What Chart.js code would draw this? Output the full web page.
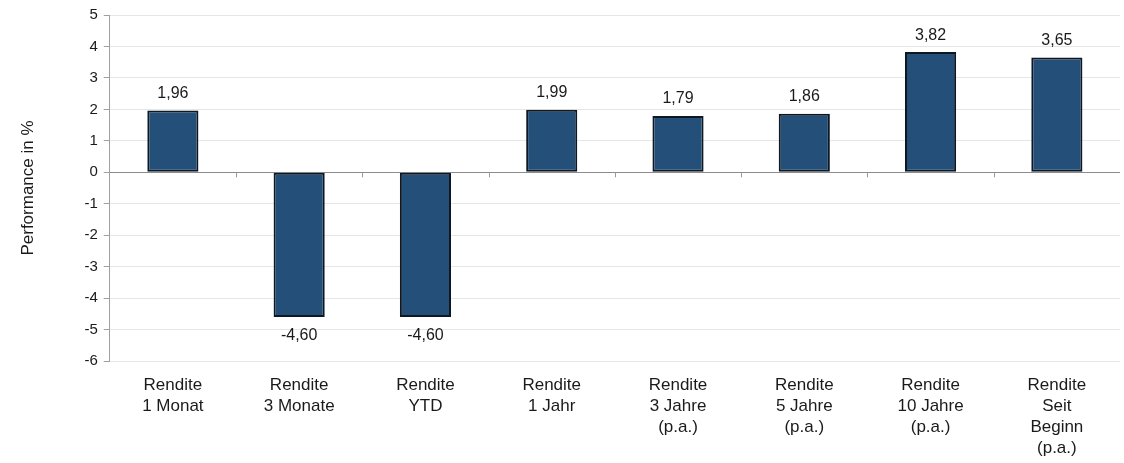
<!DOCTYPE html>
<html>
<head>
<meta charset="utf-8">
<script src="https://cdn.jsdelivr.net/npm/chart.js@4.4.1/dist/chart.umd.min.js"></script>
<style>
html,body{margin:0;padding:0;background:#fff;}
#wrap{width:1124px;height:463px;position:relative;}
</style>
</head>
<body>
<div id="wrap"><canvas id="c" width="1124" height="463"></canvas></div>
<script>
const categories = [
  ["Rendite","1 Monat"],
  ["Rendite","3 Monate"],
  ["Rendite","YTD"],
  ["Rendite","1 Jahr"],
  ["Rendite","3 Jahre","(p.a.)"],
  ["Rendite","5 Jahre","(p.a.)"],
  ["Rendite","10 Jahre","(p.a.)"],
  ["Rendite","Seit","Beginn","(p.a.)"]
];
const performance = [1.96, -4.60, -4.60, 1.99, 1.79, 1.86, 3.82, 3.65];
const yTicks = [5,4,3,2,1,0,-1,-2,-3,-4,-5,-6];

const fmt = v => v.toFixed(2).replace('.', ',');
const FONT = '"Liberation Sans", Arial, sans-serif';

const extras = {
  id: 'extras',
  afterDatasetsDraw(chart) {
    const ctx = chart.ctx;
    const meta = chart.getDatasetMeta(0);
    const xs = chart.scales.x, ys = chart.scales.y;
    ctx.save();
    const y0 = ys.getPixelForValue(0);
    ctx.strokeStyle = '#999';
    ctx.lineWidth = 1;
    for (let i = 0; i < categories.length - 1; i++) {
      const xm = Math.round((xs.getPixelForValue(i) + xs.getPixelForValue(i + 1)) / 2) + 0.5;
      ctx.beginPath();
      ctx.moveTo(xm, y0);
      ctx.lineTo(xm, y0 + 5);
      ctx.stroke();
    }
    ctx.fillStyle = '#1a1a1a';
    ctx.font = '16px ' + FONT;
    ctx.textAlign = 'center';
    meta.data.forEach((bar, i) => {
      const v = performance[i];
      if (v >= 0) {
        ctx.textBaseline = 'bottom';
        ctx.fillText(fmt(v), bar.x, bar.y - 9);
      } else {
        ctx.textBaseline = 'top';
        ctx.fillText(fmt(v), bar.x, bar.y + 11);
      }
    });
    ctx.restore();
  }
};

new Chart(document.getElementById('c'), {
  type: 'bar',
  data: {
    labels: categories,
    datasets: [{
      data: performance,
      backgroundColor: '#234f79',
      borderColor: '#0f1822',
      borderWidth: 2,
      borderSkipped: false,
      categoryPercentage: 1,
      barPercentage: 0.405
    }]
  },
  options: {
    responsive: false,
    animation: false,
    layout: { padding: { left: 18, right: 4, top: 6, bottom: 0 } },
    plugins: { legend: { display: false }, tooltip: { enabled: false } },
    scales: {
      x: {
        grid: { display: false, drawTicks: false },
        border: { display: false },
        afterFit(scale) { scale.height = 102; },
        ticks: {
          color: '#1a1a1a',
          font: { family: FONT, size: 17, lineHeight: 1.24 },
          padding: 14,
          maxRotation: 0,
          autoSkip: false
        }
      },
      y: {
        min: -6,
        max: 5,
        afterBuildTicks(scale) { scale.ticks = yTicks.map(v => ({ value: v })); },
        grid: {
          color: ctx => ctx.tick && ctx.tick.value === 0 ? '#8c8c8c' : '#e6e6e6',
          tickColor: '#a0a0a0',
          tickLength: 6,
          drawTicks: true
        },
        border: { display: true, color: '#a0a0a0' },
        ticks: {
          color: '#1a1a1a',
          font: { family: FONT, size: 15 },
          padding: 6,
          callback: v => String(v)
        },
        title: {
          display: true,
          text: 'Performance in %',
          color: '#1a1a1a',
          font: { family: FONT, size: 17 },
          padding: { top: 0, bottom: 40 }
        }
      }
    }
  },
  plugins: [extras]
});
</script>
</body>
</html>
